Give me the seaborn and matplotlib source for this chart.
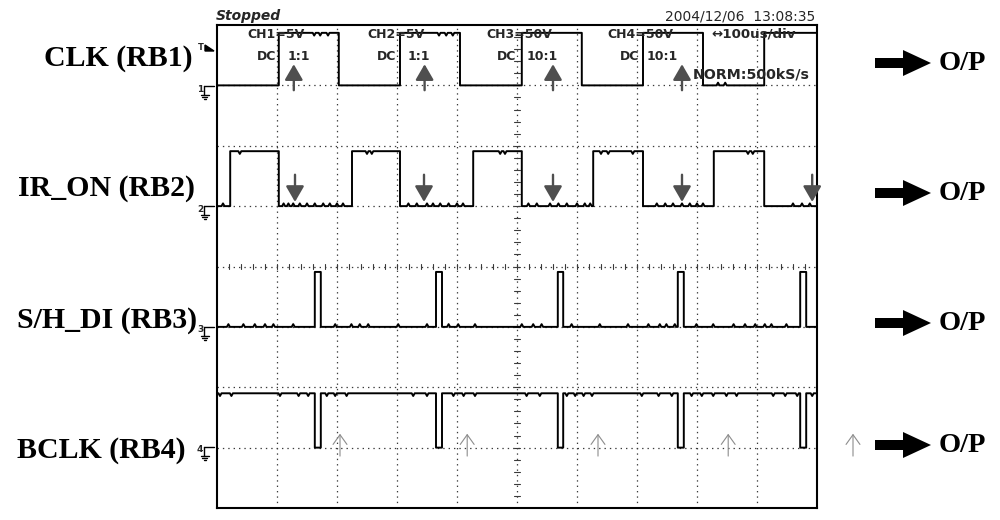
import numpy as np
import pandas as pd
import matplotlib
matplotlib.use("Agg")
import matplotlib.pyplot as plt
import seaborn as sns
from matplotlib.transforms import Affine2D
from matplotlib.patches import FancyArrow, Polygon
from matplotlib.lines import Line2D

# ---------------- data (time in divisions, level in divisions) ----------------
channels = ["CLK (RB1)", "IR_ON (RB2)", "S/H_DI (RB3)", "BCLK (RB4)"]
ground_levels = [7.0, 5.0, 3.0, 1.0]
high_levels = [7.87, 5.91, 3.91, 1.90]
start_high = [False, False, False, True]

clk_edges = [1.03, 2.03, 3.05, 4.05, 5.08, 6.08, 7.10, 8.10, 9.12]
ir_edges = [0.22, 1.03, 2.25, 3.05, 4.27, 5.08, 6.27, 7.10, 8.28, 9.12]
sh_edges = [1.63, 1.73, 3.65, 3.75, 5.68, 5.77, 7.68, 7.78, 9.72, 9.82]
bclk_edges = [1.63, 1.73, 3.65, 3.75, 5.68, 5.77, 7.68, 7.78, 9.72, 9.82]

# small glitches (time positions, in divisions)
clk_glitches = [1.62, 1.72, 1.85, 3.70, 3.82, 3.93, 8.35, 8.47]
ir_glitches = [0.02, 0.10, 0.38, 1.11, 1.19, 1.27, 1.38, 1.50, 1.63, 1.77, 1.88,
               2.00, 2.10, 2.50, 2.58, 3.19, 3.33, 3.50, 3.60, 3.72, 3.86, 4.00,
               4.10, 4.72, 4.80, 5.19, 5.33, 5.55, 5.69, 5.83, 6.00, 6.13, 6.22,
               6.40, 6.52, 6.93, 7.33, 7.47, 7.60, 7.75, 7.88, 8.00, 8.10, 8.85,
               8.93, 9.60, 9.75, 9.88]
sh_glitches = [0.19, 0.44, 0.63, 0.80, 0.94, 1.27, 1.97, 2.24, 2.38, 2.52, 3.02,
               3.50, 3.86, 4.02, 4.30, 5.08, 5.27, 5.41, 5.91, 6.38, 6.85, 7.19,
               7.38, 7.49, 7.63, 7.99, 8.27, 8.61, 8.80, 8.97, 9.13, 9.24, 9.49]
bclk_glitches = [0.05, 0.24, 1.05, 1.36, 1.52, 1.83, 1.97, 2.16, 3.27, 3.50, 3.94,
                 4.11, 4.30, 5.16, 5.38, 5.83, 5.97, 6.11, 6.25, 7.08, 7.36, 7.58,
                 7.91, 8.08, 8.27, 8.49, 8.66, 9.27, 9.47, 9.67, 9.92]

clk_arrow_x = [1.28, 3.46, 5.60, 7.75]
clk_arrow_tail, clk_arrow_tip = 6.92, 7.35
ir_arrow_x = [1.30, 3.45, 5.60, 7.75, 9.92]
ir_arrow_tail, ir_arrow_tip = 5.52, 5.07
bclk_arrow_x = [2.05, 4.17, 6.35, 8.52, 10.60]
bclk_arrow_tail, bclk_arrow_tip = 0.86, 1.23

scope_labels = ["CH1=5V", "CH2=5V", "CH3=50V", "CH4=50V"]
coupling = ["DC", "DC", "DC", "DC"]
probe = ["1:1", "1:1", "10:1", "10:1"]
timebase = "\u2194100us/div"
sample_rate = "NORM:500kS/s"
status = "Stopped"
timestamp = "2004/12/06  13:08:35"
output_label = "O/P"


# ---------------- helpers ----------------
def trace(edges, lo, hi, high_first, glitches, h=0.045, t0=0.0, t1=10.0):
    level = hi if high_first else lo
    segs = []
    a = t0
    for e in list(edges) + [t1]:
        segs.append((a, e, level))
        a = e
        level = lo if level == hi else hi
    ts, vs = [], []
    for a, b, lvl in segs:
        ts.append(a)
        vs.append(lvl)
        sign = 1 if lvl == lo else -1
        for g in sorted(glitches):
            if a + 0.035 < g < b - 0.035:
                ts += [g - 0.025, g, g + 0.025]
                vs += [lvl, lvl + sign * h, lvl]
        ts.append(b)
        vs.append(lvl)
    return pd.DataFrame({"t": ts, "v": vs})


sns.set_style("white")
W, H = 1000, 520
fig = plt.figure(figsize=(W / 100, H / 100), dpi=100)
ax = fig.add_axes([217 / W, 1 - 508 / H, 600 / W, 483 / H])
ax.set_xlim(0, 10)
ax.set_ylim(0, 8)
ax.set_xticks([])
ax.set_yticks([])
for s in ax.spines.values():
    s.set_visible(True)
    s.set_color("black")
    s.set_linewidth(1.5)

# pixel transform (origin top-left of figure)
pix = Affine2D().scale(1 / W, -1 / H).translate(0, 1) + fig.transFigure

# graticule
dot = (0, (1.1, 3.2))
for gx in range(1, 10):
    ax.axvline(gx, color="#3a3a3a", lw=0.9, ls=dot, zorder=1)
for gy in range(1, 8):
    ax.axhline(gy, color="#3a3a3a", lw=0.9, ls=dot, zorder=1)
for ty in np.arange(0.2, 8.0, 0.2):
    ax.plot([4.955, 5.045], [ty, ty], color="#3a3a3a", lw=0.8, zorder=1)
for tx in np.arange(0.2, 10.0, 0.2):
    ax.plot([tx, tx], [3.955, 4.045], color="#3a3a3a", lw=0.8, zorder=1)

# traces
all_edges = [clk_edges, ir_edges, sh_edges, bclk_edges]
all_glitches = [clk_glitches, ir_glitches, sh_glitches, bclk_glitches]
for i in range(4):
    df = trace(all_edges[i], ground_levels[i], high_levels[i], start_high[i],
               all_glitches[i])
    sns.lineplot(data=df, x="t", y="v", estimator=None, sort=False,
                 color="black", lw=1.4, ax=ax, zorder=3)
ax.set_xlabel("")
ax.set_ylabel("")

# arrows on the screen
dark = "#4f4f4f"
for x in clk_arrow_x:
    ax.annotate("", xy=(x, clk_arrow_tip), xytext=(x, clk_arrow_tail),
                arrowprops=dict(arrowstyle="-|>,head_length=0.95,head_width=0.55",
                                mutation_scale=10, lw=1.7, color=dark,
                                shrinkA=0, shrinkB=0), zorder=4)
for x in ir_arrow_x:
    ax.annotate("", xy=(x, ir_arrow_tip), xytext=(x, ir_arrow_tail),
                arrowprops=dict(arrowstyle="-|>,head_length=0.95,head_width=0.55",
                                mutation_scale=10, lw=1.7, color=dark,
                                shrinkA=0, shrinkB=0), zorder=4)
for x in bclk_arrow_x:
    ax.annotate("", xy=(x, bclk_arrow_tip), xytext=(x, bclk_arrow_tail),
                arrowprops=dict(arrowstyle="->,head_length=0.7,head_width=0.5",
                                mutation_scale=10, lw=0.8, color="#8c8c8c",
                                shrinkA=0, shrinkB=0),
                annotation_clip=False, zorder=4)

# on-screen text
mono = ["DejaVu Sans"]
ch_x = [247, 367, 486, 607]
dc_x = [257, 377, 497, 620]
pr_x = [288, 408, 527, 647]
for i in range(4):
    fig.text(ch_x[i], 35, scope_labels[i], transform=pix, fontsize=9,
             fontweight="bold", family=mono, va="center", ha="left", zorder=5)
    fig.text(dc_x[i], 56, coupling[i], transform=pix, fontsize=9,
             fontweight="bold", family=mono, va="center", ha="left", zorder=5)
    fig.text(pr_x[i], 56, probe[i], transform=pix, fontsize=9,
             fontweight="bold", family=mono, va="center", ha="left", zorder=5)
fig.text(711, 34, timebase, transform=pix, fontsize=9.6, fontweight="bold",
         family=mono, va="center", ha="left")
fig.text(693, 75, sample_rate, transform=pix, fontsize=10.2, fontweight="bold",
         family=mono, va="center", ha="left")
fig.text(216, 16, status, transform=pix, fontsize=10, fontweight="bold",
         style="italic", family=mono, va="center", ha="left")
fig.text(815, 16, timestamp, transform=pix, fontsize=10, family=mono,
         va="center", ha="right")

# channel labels (left)
serif = ["Liberation Serif", "DejaVu Serif"]
label_right = [193, 195, 197, 186]
label_y = [58, 189, 320, 450]
for i in range(4):
    fig.text(label_right[i], label_y[i], channels[i], transform=pix,
             fontsize=21.5, fontweight="bold", family=serif, color="black",
             ha="right", va="center")

# ground markers and trigger marker
ground_px = [86, 206, 327, 447]
for i, gp in enumerate(ground_px):
    fig.text(200, gp + 3, str(i + 1), transform=pix, fontsize=6.5,
             fontweight="bold", family=mono, ha="center", va="center")
    for xs, ys in [([204, 214], [gp, gp]), ([204, 204], [gp, gp + 9]),
                   ([200.5, 208.5], [gp + 9, gp + 9]), ([202, 207], [gp + 11, gp + 11]),
                   ([203.5, 205.5], [gp + 13, gp + 13])]:
        fig.add_artist(Line2D(xs, ys, transform=pix, color="black", lw=1.0))
fig.text(201, 48, "T", transform=pix, fontsize=6, fontweight="bold",
         family=mono, ha="center", va="center")
fig.add_artist(Polygon([[205, 45], [214, 51], [205, 51]], closed=True,
                       transform=pix, color="black"))

# output arrows (right)
op_y = [63, 193, 323, 445]
for y in op_y:
    fig.add_artist(FancyArrow(875, y, 56, 0, width=10, head_width=26,
                              head_length=28, length_includes_head=True,
                              transform=pix, color="black", lw=0))
    fig.text(939, y, output_label, transform=pix, fontsize=20.5,
             fontweight="bold", family=serif, color="black",
             ha="left", va="center")

fig.savefig("out.png", dpi=100)
